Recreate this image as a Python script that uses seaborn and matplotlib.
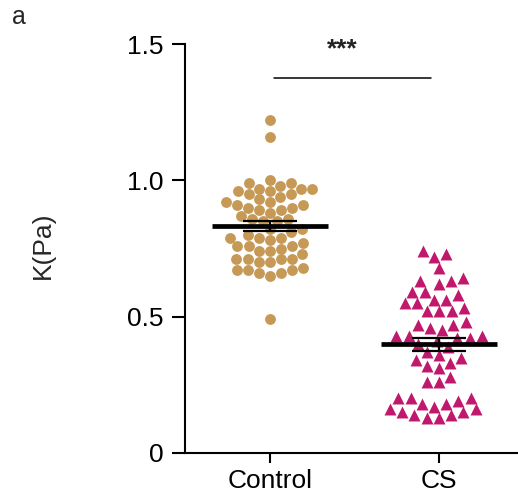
import numpy as np
import pandas as pd
import matplotlib
matplotlib.use("Agg")
import matplotlib.pyplot as plt
import seaborn as sns

# ---- data ----
groups = ["Control", "CS"]
control_k = [1.22, 1.16,
             1.00, 0.99, 0.98, 0.99, 0.97,
             0.97, 0.97, 0.95, 0.96, 0.96, 0.94, 0.93, 0.95,
             0.92, 0.90, 0.91, 0.90, 0.89, 0.91, 0.92,
             0.88, 0.86, 0.85, 0.85, 0.86, 0.87, 0.89,
             0.82, 0.82, 0.81, 0.80, 0.79, 0.79, 0.79, 0.78,
             0.76, 0.76, 0.76, 0.75, 0.77, 0.74, 0.74, 0.73,
             0.71, 0.71, 0.70, 0.70, 0.71, 0.71,
             0.68, 0.67, 0.66, 0.67, 0.66, 0.67, 0.65,
             0.49]
cs_k = [0.73, 0.74, 0.72, 0.68,
        0.64, 0.63, 0.62, 0.63,
        0.59, 0.58, 0.59,
        0.55, 0.53, 0.56, 0.55, 0.56,
        0.52, 0.52, 0.52,
        0.47, 0.46, 0.47, 0.48, 0.45,
        0.43, 0.42, 0.42, 0.43, 0.43, 0.40, 0.41,
        0.39, 0.36, 0.37,
        0.34, 0.32, 0.33, 0.35, 0.31,
        0.28, 0.26, 0.26,
        0.20, 0.19, 0.18, 0.20, 0.20,
        0.15, 0.16, 0.14, 0.17, 0.13, 0.16, 0.13, 0.18, 0.14, 0.15]
ytick_values = [0, 0.5, 1.0, 1.5]
ytick_labels = ["0", "0.5", "1.0", "1.5"]
significance = "***"

colors = {"Control": "#C69A56", "CS": "#C0186D"}

df = pd.DataFrame({
    "group": ["Control"] * len(control_k) + ["CS"] * len(cs_k),
    "K": control_k + cs_k,
})

sns.set_style("ticks")
plt.rcParams["font.family"] = ["Liberation Sans", "DejaVu Sans"]

fig = plt.figure(figsize=(5.18, 4.99), dpi=100)
ax = fig.add_axes([0.3571, 0.0922, 0.6429, 0.8196])

sns.swarmplot(data=df[df.group == "Control"], x="group", y="K", order=groups,
              color=colors["Control"], marker="o", size=7.8, linewidth=0, ax=ax)
sns.swarmplot(data=df[df.group == "CS"], x="group", y="K", order=groups,
              color=colors["CS"], marker="^", size=8.6, linewidth=0, ax=ax)

# mean line and SEM
stats = df.groupby("group")["K"].agg(["mean", "sem"]).reindex(groups)
for i, g in enumerate(groups):
    m, s = stats.loc[g, "mean"], stats.loc[g, "sem"]
    ax.hlines(m, i - 0.343, i + 0.343, color="black", lw=3.4, zorder=5)
    ax.errorbar(i, m, yerr=s, color="black", capsize=19.5, capthick=1.6,
                elinewidth=1.6, zorder=5)

ax.set_xlim(-0.503, 1.467)
ax.set_ylim(0, 1.5)
ax.set_yticks(ytick_values)
ax.set_yticklabels(ytick_labels)
ax.set_xlabel("")
ax.set_ylabel("K(Pa)", fontsize=19)
ax.yaxis.set_label_coords(-0.39, 0.509)

for side in ["top", "right"]:
    ax.spines[side].set_visible(False)
for side in ["left", "bottom"]:
    ax.spines[side].set_linewidth(1.5)
    ax.spines[side].set_color("black")
ax.tick_params(axis="y", length=9.5, width=1.5, pad=6, labelsize=19, colors="black")
ax.tick_params(axis="x", length=7.5, width=1.5, pad=4, labelsize=19, colors="black")

# significance annotation
ax.plot([0.024, 0.95], [1.375, 1.375], color="black", lw=1.1, clip_on=False)
ax.text(0.43, 1.48, significance, ha="center", va="center", fontsize=19,
        fontweight="bold", color="#222222")

fig.text(0.024, 0.99, "a", fontsize=18, ha="left", va="top")

fig.savefig("out.png", dpi=100)
